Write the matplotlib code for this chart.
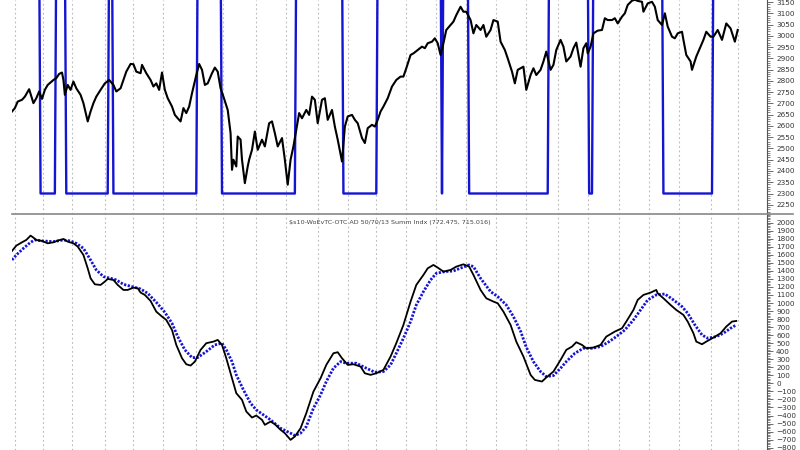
import numpy as np
import matplotlib.pyplot as plt
from matplotlib.ticker import MultipleLocator, FixedLocator
from matplotlib.lines import Line2D

# Цена (верхняя панель): номер торговой сессии и значение
price_day = [0, 2, 4, 7, 9, 12, 15, 17, 19, 21, 23, 25, 29, 31, 33, 35, 36, 37, 39, 41,
             43, 45, 48, 50, 53, 55, 57, 59, 62, 65, 68, 71, 73, 76, 78, 80, 83, 85, 87, 90,
             91, 94, 97, 99, 101, 103, 105, 107, 109, 112, 114, 116, 118, 120, 122, 124, 126, 129, 131, 133,
             135, 137, 140, 142, 144, 146, 148, 151, 153, 154, 155, 157, 158, 160, 161, 163, 165, 166, 168, 170,
             172, 175, 177, 180, 182, 184, 186, 189, 191, 193, 195, 197, 199, 201, 203, 206, 208, 210, 212, 214,
             217, 219, 221, 224, 226, 228, 231, 233, 235, 238, 240, 242, 245, 247, 249, 252, 254, 256, 258, 260,
             263, 266, 269, 272, 274, 276, 279, 281, 284, 287, 289, 291, 294, 296, 298, 300, 302, 304, 307, 309,
             311, 314, 316, 318, 321, 323, 325, 328, 330, 332, 335, 337, 340, 342, 345, 347, 350, 352, 354, 358,
             360, 363, 365, 367, 370, 372, 374, 377, 379, 381, 384, 386, 388, 391, 393, 395, 398, 400, 402, 403,
             405, 407, 410, 413, 415, 417, 420, 422, 424, 427, 429, 431, 434, 436, 438, 441, 442, 445, 448, 450,
             452, 455, 457, 459, 462, 464, 466, 469, 470, 472, 475, 476, 479, 482, 484, 486, 489, 491, 494, 497,
             500, 503, 506, 508]
price_val = [2664, 2679, 2708, 2716, 2730, 2763, 2701, 2723, 2753, 2720, 2760, 2782, 2804, 2812, 2831, 2837, 2804, 2738, 2782, 2760,
             2797, 2767, 2738, 2701, 2620, 2664, 2701, 2730, 2760, 2789, 2804, 2782, 2753, 2767, 2804, 2841, 2875, 2874, 2841, 2834,
             2871, 2834, 2804, 2775, 2789, 2760, 2837, 2760, 2723, 2686, 2649, 2634, 2620, 2679, 2657, 2686, 2745, 2826, 2875, 2849,
             2782, 2789, 2834, 2859, 2841, 2767, 2730, 2671, 2568, 2405, 2450, 2420, 2553, 2539, 2450, 2346, 2420, 2450, 2494, 2575,
             2494, 2539, 2509, 2612, 2620, 2568, 2509, 2546, 2450, 2339, 2450, 2509, 2583, 2657, 2634, 2671, 2649, 2730, 2716, 2612,
             2716, 2723, 2627, 2671, 2597, 2539, 2442, 2597, 2642, 2649, 2627, 2612, 2546, 2524, 2590, 2605, 2597, 2627, 2664, 2686,
             2723, 2775, 2804, 2819, 2819, 2856, 2915, 2922, 2937, 2952, 2945, 2967, 2974, 2989, 2967, 2915, 2967, 3026, 3048, 3063,
             3092, 3129, 3107, 3107, 3070, 3011, 3048, 3026, 3048, 2996, 3026, 3070, 3063, 2974, 2937, 2900, 2841, 2789, 2849, 2863,
             2760, 2826, 2856, 2826, 2849, 2886, 2930, 2849, 2871, 2937, 2982, 2952, 2886, 2908, 2945, 2970, 2863, 2945, 2967, 2922,
             2952, 3011, 3023, 3026, 3078, 3070, 3070, 3078, 3055, 3085, 3100, 3137, 3156, 3160, 3155, 3151, 3107, 3144, 3151, 3129,
             3070, 3048, 3100, 3041, 2996, 2989, 3011, 3018, 2982, 2915, 2886, 2849, 2908, 2952, 2982, 3018, 2996, 2996, 3026, 2982,
             3055, 3033, 2974, 3026]

# Сигнал: сессии переключения (начинается в верхнем положении)
signal_switch = [20, 31, 38, 68, 71, 130, 147, 199, 232, 256, 301, 302, 320, 376, 404, 407, 456, 491]
SIGNAL_LOW, SIGNAL_HIGH = 2300, 3400
N_DAYS = 509

# Индекс суммирования (нижняя панель)
summ_day = [0, 3, 7, 10, 13, 15, 17, 21, 25, 29, 32, 36, 39, 43, 46, 50, 53, 55, 58, 62,
            65, 67, 71, 74, 78, 81, 85, 88, 90, 93, 97, 101, 105, 108, 112, 115, 119, 122, 125, 128,
            132, 136, 141, 144, 147, 150, 154, 157, 161, 164, 168, 171, 175, 177, 181, 184, 188, 191, 195, 198,
            202, 206, 211, 216, 220, 225, 228, 231, 235, 239, 244, 247, 251, 255, 260, 265, 269, 274, 279, 283,
            288, 291, 295, 298, 302, 307, 311, 316, 320, 323, 328, 332, 337, 340, 344, 349, 353, 358, 363, 366,
            371, 374, 379, 384, 388, 392, 395, 399, 402, 407, 412, 416, 422, 427, 430, 435, 438, 442, 447, 451,
            452, 456, 461, 465, 470, 473, 477, 479, 483, 486, 491, 496, 500, 504, 507]
summ_val = [1648, 1714, 1756, 1785, 1839, 1814, 1785, 1772, 1743, 1756, 1777, 1797, 1764, 1743, 1702, 1598, 1432, 1308, 1233, 1225,
            1267, 1300, 1287, 1225, 1163, 1163, 1192, 1184, 1130, 1101, 1026, 893, 831, 790, 665, 479, 313, 238, 222, 271,
            417, 500, 520, 541, 479, 313, 64, -122, -205, -350, -425, -400, -454, -516, -475, -508, -578, -620, -703, -661,
            -558, -371, -102, 64, 230, 375, 388, 313, 230, 238, 209, 126, 106, 126, 168, 334, 500, 728, 1018, 1225,
            1350, 1432, 1474, 1441, 1391, 1412, 1453, 1482, 1453, 1350, 1163, 1059, 1018, 997, 893, 728, 520, 334, 106, 43,
            23, 73, 147, 292, 417, 458, 512, 479, 437, 446, 479, 582, 645, 686, 769, 914, 1039, 1101, 1130, 1163,
            1121, 1059, 976, 914, 852, 769, 624, 520, 487, 520, 570, 624, 707, 769, 777]

# Сглаженная линия индекса
ma_day = [0, 3, 8, 13, 16, 22, 29, 36, 41, 45, 50, 55, 59, 64, 69, 73, 78, 84, 90, 95,
          101, 107, 112, 116, 121, 126, 130, 136, 142, 147, 150, 154, 157, 162, 167, 171, 176, 181, 188, 195,
          198, 202, 206, 211, 216, 220, 225, 230, 234, 241, 248, 254, 260, 265, 269, 274, 279, 283, 288, 293,
          297, 303, 309, 315, 320, 323, 328, 335, 340, 346, 351, 356, 360, 365, 370, 374, 379, 384, 388, 394,
          400, 406, 412, 418, 423, 429, 435, 440, 445, 451, 457, 463, 469, 473, 478, 483, 487, 493, 498, 503,
          507]
ma_val = [1536, 1598, 1681, 1756, 1785, 1772, 1764, 1785, 1772, 1743, 1681, 1536, 1412, 1329, 1308, 1287, 1233, 1204, 1175, 1121,
          1009, 885, 748, 583, 417, 321, 321, 396, 479, 500, 417, 271, 106, -81, -247, -330, -392, -454, -558, -620,
          -649, -620, -537, -309, -143, 23, 189, 271, 251, 251, 189, 139, 147, 230, 375, 562, 769, 976, 1142, 1287,
          1370, 1391, 1399, 1441, 1474, 1453, 1308, 1142, 1080, 976, 831, 650, 450, 271, 147, 85, 97, 189, 271, 375,
          437, 437, 458, 520, 582, 665, 790, 914, 1039, 1101, 1113, 1039, 956, 873, 728, 603, 562, 582, 624, 686,
          728]

# Месячные линии сетки (номер сессии)
month_days = [2, 22, 42, 65, 85, 106, 129, 148, 171, 192, 214, 235, 255, 276, 297, 318, 339, 360, 382, 403,
              425, 446, 467, 489, 508]

SUBTITLE = "$s10-WoEvTC-OTC AD 50/70/13 Summ Indx (772.475, 715.016)"
BLUE = '#1414d2'

# ступенчатый сигнал из моментов переключения
days = np.arange(N_DAYS)
state = np.ones(N_DAYS, dtype=bool)
for s in signal_switch:
    state[s:] = ~state[s:]
signal = np.where(state, SIGNAL_HIGH, SIGNAL_LOW)

fig = plt.figure(figsize=(8, 4.5), dpi=100)
left, width = 12 / 800, 755 / 800
ax1 = fig.add_axes([left, 1 - 214 / 450, width, 214 / 450])
ax2 = fig.add_axes([left, 0, width, 236 / 450])

ax1.plot(days, signal, color=BLUE, linewidth=1.7, zorder=2)
ax1.plot(price_day, price_val, color='black', linewidth=1.5, zorder=3)
ax1.set_ylim(2209, 3159)
ax1.yaxis.set_major_locator(FixedLocator(np.arange(2250, 3151, 50)))
ax1.yaxis.set_minor_locator(MultipleLocator(10))

ax2.plot(summ_day, summ_val, color='black', linewidth=1.3, zorder=3)
ax2.plot(ma_day, ma_val, color=BLUE, linewidth=2.0, linestyle=(0, (0.8, 0.55)), zorder=2)
ax2.set_ylim(-829, 2108)
ax2.yaxis.set_major_locator(FixedLocator(np.arange(-800, 2001, 100)))
ax2.yaxis.set_minor_locator(MultipleLocator(20))

for ax in (ax1, ax2):
    ax.set_xlim(0, 528.5)
    ax.set_xticks(month_days)
    ax.tick_params(axis='x', bottom=False, labelbottom=False)
    ax.grid(True, axis='x', color='#b8b8b8', linestyle=(0, (1.5, 2.5)), linewidth=0.8)
    ax.yaxis.tick_right()
    ax.tick_params(axis='y', which='major', length=4, width=0.6, colors='#555555',
                   labelsize=5.2, labelcolor='#333333', pad=2.5)
    ax.tick_params(axis='y', which='minor', length=2, width=0.5, colors='#555555')
    for side in ('top', 'left', 'bottom'):
        ax.spines[side].set_visible(False)
    ax.spines['right'].set_color('#555555')
    ax.spines['right'].set_linewidth(0.8)

# разделитель панелей
fig.add_artist(Line2D([12 / 800, 793 / 800], [1 - 214 / 450] * 2, transform=fig.transFigure,
                      color='#888888', linewidth=1.2))

ax2.text(0.5, 0.975, SUBTITLE, transform=ax2.transAxes, ha='center', va='top',
         fontsize=4.6, color='#444444')

fig.savefig('out.png', dpi=100)
